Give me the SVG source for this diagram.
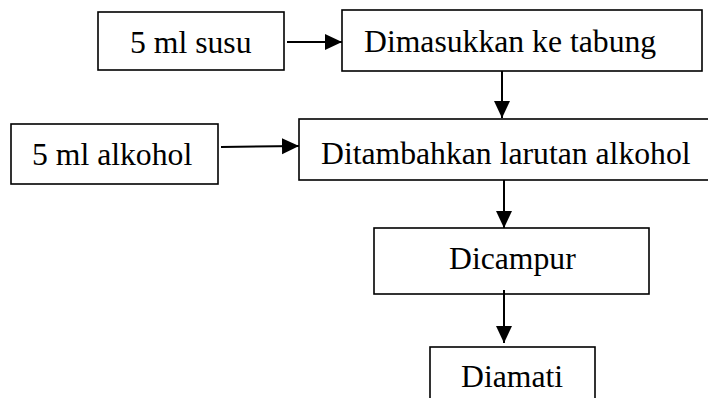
<svg xmlns="http://www.w3.org/2000/svg" width="708" height="398" viewBox="0 0 708 398">
<style>
.box{fill:#fff;stroke:#000;stroke-width:1.6}
.lbl{font-family:"Liberation Serif","Times New Roman",serif;font-size:31.7px;fill:#000}
.con{stroke:#000;stroke-width:2;fill:none}
</style>
<defs>
<marker id="ah" markerUnits="userSpaceOnUse" markerWidth="18" markerHeight="17" refX="17" refY="8" orient="auto">
<path d="M0,0 L17,8 L0,16 Z" fill="#000"/>
</marker>
</defs>
<rect width="708" height="398" fill="#fff"/>
<g id="n1"><rect class="box" x="98" y="12" width="186" height="58"/><text class="lbl" x="130" y="53">5 ml susu</text></g>
<g id="n2"><rect class="box" x="342" y="10" width="360" height="61"/><text class="lbl" x="364" y="51.5">Dimasukkan ke tabung</text></g>
<g id="n3"><rect class="box" x="11" y="124" width="207" height="60"/><text class="lbl" x="32" y="165">5 ml alkohol</text></g>
<g id="n4"><rect class="box" x="299" y="119" width="420" height="61"/><text class="lbl" x="321" y="163.5">Ditambahkan larutan alkohol</text></g>
<g id="n5"><rect class="box" x="374" y="228" width="275" height="66"/><text class="lbl" x="449" y="269">Dicampur</text></g>
<g id="n6"><rect class="box" x="430" y="347" width="165" height="70"/><text class="lbl" x="461" y="386.5">Diamati</text></g>
<g id="connectors">
<line class="con" x1="287" y1="42" x2="342" y2="42" marker-end="url(#ah)"/>
<line class="con" x1="221" y1="147" x2="299" y2="146" marker-end="url(#ah)"/>
<line class="con" x1="502" y1="71" x2="502" y2="118" marker-end="url(#ah)"/>
<line class="con" x1="504" y1="180" x2="504" y2="228" marker-end="url(#ah)"/>
<line class="con" x1="504" y1="290" x2="504" y2="343" marker-end="url(#ah)"/>
</g>
</svg>
